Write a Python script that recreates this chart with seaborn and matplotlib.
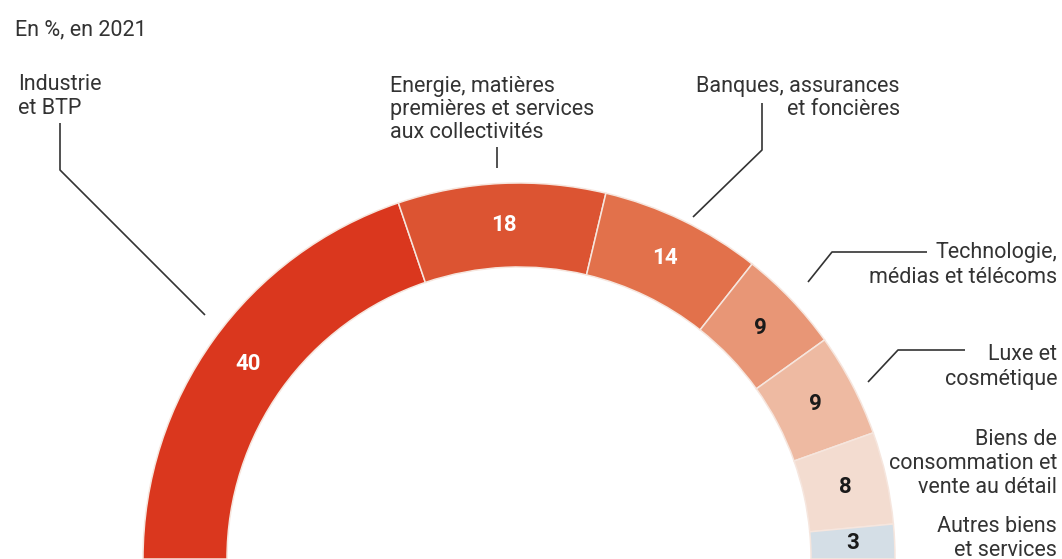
import matplotlib
matplotlib.use("Agg")
import matplotlib.pyplot as plt
import seaborn as sns
import numpy as np

# Share of each sector, in %, 2021
sectors = [
    "Industrie\net BTP",
    "Energie, matières\npremières et services\naux collectivités",
    "Banques, assurances\net foncières",
    "Technologie,\nmédias et télécoms",
    "Luxe et\ncosmétique",
    "Biens de\nconsommation et\nvente au détail",
    "Autres biens\net services",
]
shares = [40, 18, 14, 9, 9, 8, 3]
colors = ["#DA371E", "#DC5432", "#E2714B", "#E89676", "#EEBAA2", "#F3DCD0", "#D4DEE6"]
value_colors = ["white", "white", "white", "#1a1a1a", "#1a1a1a", "#1a1a1a", "#1a1a1a"]
subtitle = "En %, en 2021"

sns.set_theme(style="white")
plt.rcParams["font.family"] = ["Roboto", "DejaVu Sans"]

W, H = 1062, 559
fig = plt.figure(figsize=(W / 100, H / 100), dpi=100)
ax = fig.add_axes([0, 0, 1, 1])

def Y(y):
    # pixel row (from top) -> data y (from bottom)
    return H - y

cx, cy = 519, Y(559)
R_out, ring = 376, 84

# Half ring: a hidden wedge of equal total closes the lower half
vals = shares + [sum(shares)]
wedges, _ = ax.pie(
    vals,
    colors=colors + ["none"],
    startangle=180,
    counterclock=False,
    radius=R_out,
    center=(cx, cy),
    wedgeprops=dict(width=ring, edgecolor="#f6e6de", linewidth=1.1),
)
wedges[-1].set_visible(False)

ax.set_xlim(0, W)
ax.set_ylim(0, H)
ax.set_aspect("equal")
ax.axis("off")

# Values in the middle of each segment
r_mid = R_out - ring / 2
for w, v, tc in zip(wedges[:-1], shares, value_colors):
    ang = np.deg2rad((w.theta1 + w.theta2) / 2)
    ax.text(cx + r_mid * np.cos(ang), cy + r_mid * np.sin(ang), str(v),
            ha="center", va="center", fontsize=16, fontweight="bold", color=tc)

txt_color = "#333333"

def block(x, baselines, text, ha):
    for line, b in zip(text.split("\n"), baselines):
        ax.text(x, Y(b), line, ha=ha, va="baseline", fontsize=15.5, color=txt_color)

block(15, [35], subtitle, "left")
block(18, [90, 114], sectors[0], "left")
block(390, [92, 115, 138], sectors[1], "left")
block(900, [92, 115], sectors[2], "right")
block(1057, [258, 283], sectors[3], "right")
block(1057, [360, 385], sectors[4], "right")
block(1057, [445, 469, 493], sectors[5], "right")
block(1057, [532, 556], sectors[6], "right")

# Leader lines
leaders = [
    [(60, 123), (60, 170), (205, 315)],
    [(497, 147), (497, 168)],
    [(762, 103), (762, 150), (693, 217)],
    [(927, 252), (832, 252), (808, 282)],
    [(965, 350), (898, 350), (868, 382)],
]
for pts in leaders:
    xs = [p[0] for p in pts]
    ys = [Y(p[1]) for p in pts]
    ax.plot(xs, ys, color=txt_color, lw=1.2, solid_capstyle="butt")

fig.savefig("out.png", dpi=100, facecolor="white")
